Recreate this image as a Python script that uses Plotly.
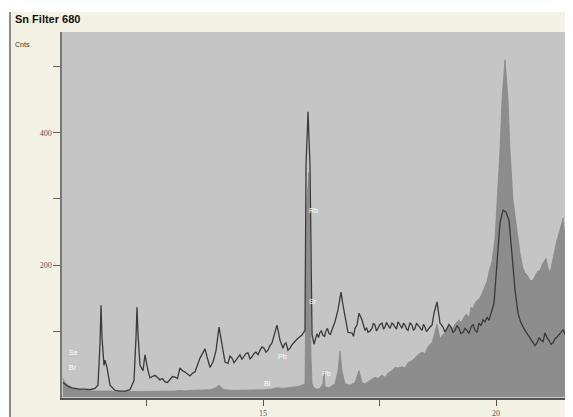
import plotly.graph_objects as go

# ---- data (energy keV, counts) ----
line_energy = [10.708, 10.751, 10.815, 10.901, 10.987, 11.073, 11.180, 11.288, 11.395, 11.459,
               11.502, 11.524, 11.545, 11.588, 11.609, 11.652, 11.717, 11.824, 11.931, 12.039,
               12.146, 12.232, 12.275, 12.296, 12.318, 12.361, 12.425, 12.468, 12.532, 12.575,
               12.682, 12.790, 12.897, 13.004, 13.112, 13.219, 13.326, 13.433, 13.541, 13.648,
               13.755, 13.798, 13.863, 13.927, 13.991, 14.056, 14.120, 14.185, 14.249, 14.335,
               14.421, 14.506, 14.592, 14.678, 14.764, 14.850, 14.936, 15.021, 15.107, 15.193,
               15.258, 15.300, 15.365, 15.429, 15.494, 15.579, 15.665, 15.751, 15.837, 15.901,
               15.923, 15.966, 16.009, 16.052, 16.094, 16.159, 16.223, 16.288, 16.352, 16.416,
               16.481, 16.545, 16.609, 16.674, 16.717, 16.781, 16.824, 16.910, 16.974, 17.017,
               17.060, 17.124, 17.189, 17.253, 17.339, 17.403, 17.468, 17.554, 17.618, 17.682,
               17.768, 17.833, 17.897, 17.983, 18.047, 18.112, 18.197, 18.262, 18.326, 18.412,
               18.476, 18.541, 18.627, 18.670, 18.734, 18.798, 18.863, 18.948, 19.034, 19.120,
               19.206, 19.292, 19.378, 19.464, 19.549, 19.635, 19.721, 19.807, 19.893, 19.957,
               20.021, 20.086, 20.150, 20.215, 20.279, 20.343, 20.408, 20.472, 20.536, 20.622,
               20.708, 20.794, 20.880, 20.966, 21.052, 21.137, 21.223, 21.309, 21.395, 21.481,
               21.567, 21.652]
line_counts = [22, 20, 16, 14, 13, 12, 12, 11, 13, 18,
               80, 139, 90, 48, 56, 45, 18, 10, 9, 9,
               11, 25, 90, 136, 95, 48, 40, 64, 40, 29,
               33, 26, 23, 27, 30, 44, 38, 32, 38, 59,
               73, 61, 45, 53, 70, 106, 76, 53, 51, 59,
               56, 64, 61, 67, 61, 68, 71, 74, 71, 82,
               97, 109, 86, 74, 82, 74, 83, 89, 94, 101,
               350, 432, 350, 95, 80, 96, 98, 93, 100, 96,
               102, 114, 132, 159, 139, 117, 98, 97, 104, 109,
               127, 117, 101, 98, 104, 109, 104, 112, 106, 109,
               112, 106, 114, 104, 109, 101, 109, 104, 109, 101,
               106, 103, 109, 127, 144, 112, 106, 104, 106, 101,
               104, 98, 101, 106, 101, 112, 117, 121, 127, 142,
               203, 264, 283, 280, 268, 212, 162, 127, 112, 101,
               91, 83, 82, 86, 97, 86, 82, 91, 98, 94,
               86, 82]
# extra readings of the small wiggles between the points above
line_energy_extra = [12.736, 12.843, 12.950, 13.058, 13.165, 13.272, 13.380, 13.487,
                     14.292, 14.378, 14.464, 14.549, 14.635, 14.721, 14.807, 14.893, 14.979,
                     15.064, 15.150, 15.461, 15.536, 15.622, 15.708,
                     16.191, 16.255, 16.320, 16.384, 16.448, 16.942,
                     17.221, 17.296, 17.371, 17.435, 17.511, 17.586, 17.650, 17.725, 17.800,
                     17.865, 17.940, 18.015, 18.079, 18.154, 18.229, 18.294, 18.369, 18.444,
                     18.508, 18.584, 18.905, 18.991, 19.077, 19.163, 19.249, 19.335, 19.421,
                     19.506, 19.592, 19.678, 19.764, 19.850,
                     20.751, 20.837, 20.923, 21.009, 21.094, 21.180, 21.266, 21.352, 21.438,
                     21.524, 21.609]
line_counts_extra = [30, 28, 22, 31, 28, 40, 35, 36,
                     62, 52, 60, 57, 66, 58, 66, 64, 76,
                     68, 78, 80, 71, 79, 86,
                     90, 100, 92, 104, 95, 92,
                     105, 100, 112, 100, 110, 103, 113, 104, 110,
                     103, 108, 112, 103, 112, 101, 112, 104, 110,
                     99, 106, 98, 110, 98, 108, 96, 104, 96,
                     110, 98, 108, 114, 116,
                     88, 78, 90, 84, 90, 80, 88, 94, 102,
                     88, 80]

area_energy = [10.708, 10.751, 10.815, 10.901, 10.987, 11.073, 11.180, 11.288, 11.395, 11.502,
               11.609, 11.717, 11.824, 11.931, 12.039, 12.146, 12.232, 12.296, 12.361, 12.468,
               12.575, 12.682, 12.790, 12.897, 13.004, 13.112, 13.219, 13.326, 13.433, 13.541,
               13.648, 13.755, 13.863, 13.991, 14.056, 14.120, 14.185, 14.335, 14.506, 14.678,
               14.850, 15.021, 15.193, 15.300, 15.429, 15.579, 15.751, 15.837, 15.901, 15.944,
               15.987, 16.030, 16.052, 16.094, 16.159, 16.223, 16.288, 16.310, 16.331, 16.416,
               16.545, 16.609, 16.652, 16.695, 16.760, 16.867, 16.974, 17.060, 17.124, 17.189,
               17.253, 17.339, 17.403, 17.468, 17.554, 17.682, 17.768, 17.897, 17.983, 18.112,
               18.197, 18.326, 18.412, 18.541, 18.627, 18.670, 18.734, 18.798, 18.863, 18.948,
               19.034, 19.120, 19.206, 19.292, 19.378, 19.464, 19.549, 19.657, 19.807, 19.914,
               19.979, 20.043, 20.086, 20.129, 20.193, 20.258, 20.300, 20.365, 20.451, 20.515,
               20.622, 20.730, 20.837, 20.944, 21.009, 21.073, 21.159, 21.223, 21.309, 21.373,
               21.438, 21.481, 21.545, 21.631, 21.652]
area_counts = [28, 22, 18, 14, 12, 11, 10, 9, 9, 9,
               10, 9, 8, 8, 8, 8, 8, 9, 8, 9,
               8, 8, 8, 8, 9, 9, 10, 9, 10, 10,
               11, 10, 11, 14, 18, 13, 11, 10, 10, 11,
               10, 11, 12, 14, 13, 14, 16, 18, 20, 300,
               340, 60, 20, 14, 12, 13, 20, 40, 15, 14,
               20, 40, 70, 40, 20, 18, 22, 40, 22, 20,
               23, 26, 30, 28, 33, 36, 40, 44, 46, 52,
               55, 64, 68, 76, 82, 95, 110, 88, 95, 104,
               106, 110, 117, 118, 125, 136, 142, 150, 175, 205,
               240, 310, 374, 450, 511, 450, 374, 298, 248, 218,
               188, 177, 182, 192, 203, 210, 188, 208, 238, 253,
               271, 242, 223, 197, 200]
area_energy_extra = [17.618, 17.833, 18.047, 18.262, 18.476, 18.584, 18.905, 18.991, 19.077,
                     19.163, 19.249, 19.335, 19.421, 19.506, 19.592, 19.721, 19.850,
                     20.576, 20.676, 20.784, 20.890, 21.116, 21.266, 21.588]
area_counts_extra = [30, 45, 44, 60, 66, 80, 96, 108, 104,
                     114, 112, 124, 120, 134, 146, 160, 190,
                     196, 184, 176, 190, 196, 226, 210]

y_tick_vals = [100, 200, 300, 400, 500]
y_tick_text = ["", "200", "", "400", ""]
x_tick_vals = [12.5, 15, 17.5, 20]
x_tick_text = ["", "15", "", "20"]

peak_labels = ["Se", "Br", "Rb", "Sr", "Pb", "Bi", "Pb"]
peak_label_x = [10.923, 10.923, 16.073, 16.073, 15.429, 15.107, 16.373]
peak_label_y = [68, 44, 283, 144, 61, 21, 36]

title_text = "Sn Filter 680"
y_title = "Cnts"

# merge main readings with the extra wiggle readings
line_pts = sorted(zip(line_energy + line_energy_extra, line_counts + line_counts_extra))
area_pts = sorted(zip(area_energy + area_energy_extra, area_counts + area_counts_extra))

# ---- figure ----
fig = go.Figure()
fig.add_trace(go.Scatter(x=[p[0] for p in area_pts], y=[p[1] for p in area_pts],
                         mode="lines", fill="tozeroy",
                         fillcolor="#8d8d8d", line=dict(color="#888888", width=0.8),
                         hoverinfo="skip", showlegend=False))
fig.add_trace(go.Scatter(x=[p[0] for p in line_pts], y=[p[1] for p in line_pts],
                         mode="lines",
                         line=dict(color="#3a3a3a", width=1.3),
                         hoverinfo="skip", showlegend=False))

for t, x, y in zip(peak_labels, peak_label_x, peak_label_y):
    fig.add_annotation(x=x, y=y, text=t, showarrow=False,
                       font=dict(family="Liberation Sans", size=7, color="#ffffff"))

fig.add_annotation(xref="paper", yref="paper", x=-0.0959, y=1.0355, text="<b>" + title_text + "</b>",
                   showarrow=False, xanchor="left", yanchor="middle",
                   font=dict(family="Liberation Sans", size=11, color="#111111"))
fig.add_annotation(xref="paper", yref="paper", x=-0.0959, y=0.9645, text=y_title,
                   showarrow=False, xanchor="left", yanchor="middle",
                   font=dict(family="Liberation Sans", size=7, color="#333333"))

# white outer strips and panel border
fig.add_shape(type="rect", xref="paper", yref="paper", x0=-0.2, x1=1.1, y0=1.0546, y1=1.2,
              fillcolor="white", line=dict(width=0), layer="below")
fig.add_shape(type="rect", xref="paper", yref="paper", x0=-0.2, x1=-0.1018, y0=-0.2, y1=1.2,
              fillcolor="white", line=dict(width=0), layer="below")
fig.add_shape(type="line", xref="paper", yref="paper", x0=-0.1018, x1=-0.1018, y0=-0.1, y1=1.0546,
              line=dict(color="#8a8a8a", width=2), layer="below")

fig.update_layout(
    width=565, height=409,
    margin=dict(l=54, r=0, t=24, b=19),
    paper_bgcolor="#f3f1e3",
    plot_bgcolor="#c5c5c5",
    showlegend=False,
    xaxis=dict(range=[10.687, 21.652], showgrid=False, zeroline=False,
               showline=True, linecolor="#555555", linewidth=2,
               tickmode="array", tickvals=x_tick_vals, ticktext=x_tick_text,
               ticks="outside", ticklen=6, tickcolor="#555555", tickwidth=1,
               tickfont=dict(family="Liberation Serif", size=8, color="#555555")),
    yaxis=dict(range=[-1.5, 553], showgrid=False, zeroline=False,
               showline=True, linecolor="#777777", linewidth=1.5,
               tickmode="array", tickvals=y_tick_vals, ticktext=y_tick_text,
               ticks="outside", ticklen=7, tickcolor="#666666", tickwidth=1,
               tickfont=dict(family="Liberation Serif", size=8, color="#555555")),
)

fig.write_html("out.html")
